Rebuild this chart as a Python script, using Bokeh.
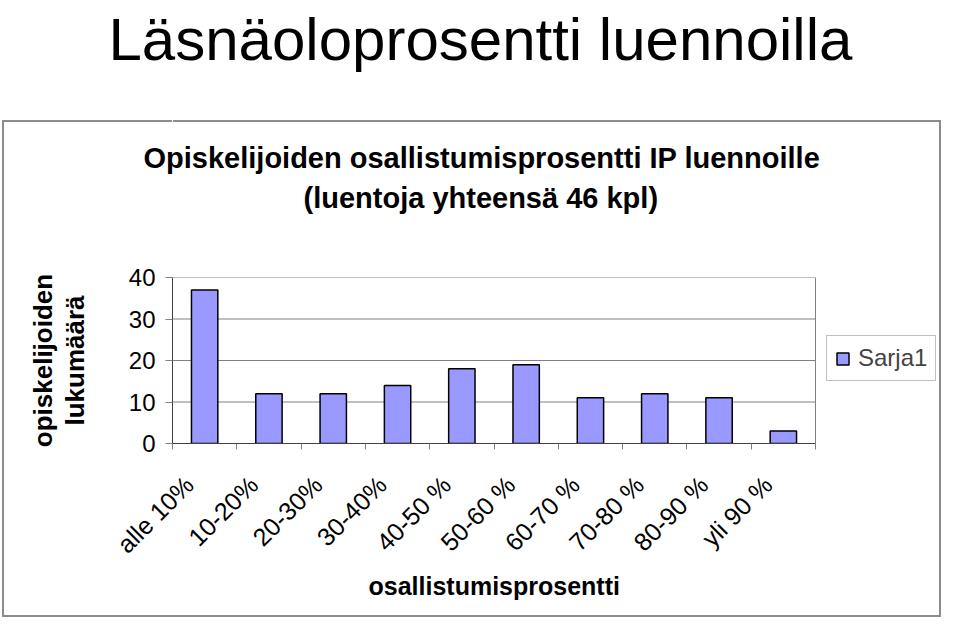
from math import pi
from bokeh.plotting import figure
from bokeh.models import (Range1d, LinearAxis, FixedTicker, CustomJSTickFormatter, Title,
                          Legend, LegendItem, ColumnDataSource, Grid)
from bokeh.embed import file_html
from bokeh.resources import INLINE

# ---- data ----
main_title = "Läsnäoloprosentti luennoilla"
chart_title_1 = "Opiskelijoiden osallistumisprosentti IP luennoille"
chart_title_2 = "(luentoja yhteensä 46 kpl)"
categories = ["alle 10%", "10-20%", "20-30%", "30-40%", "40-50 %",
              "50-60 %", "60-70 %", "70-80 %", "80-90 %", "yli 90 %"]
counts = [37, 12, 12, 14, 18, 19, 11, 12, 11, 3]
y_ticks = [0, 10, 20, 30, 40]
series_name = "Sarja1"
x_title = "osallistumisprosentti"
y_title = "opiskelijoiden\nlukumäärä"

# ---- layout constants (pixels) ----
W, H = 944, 619
FONT = "Liberation Sans"
BAR = "#9999FF"
GRAY = "#808080"
BOX = "#8c8c8c"
n = len(categories)
FL, FT, FB = 172, 277, 443      # frame left / top / bottom
PW = 643                        # width of the plotted category area
FW = W - FL                     # frame runs to the right edge (room for legend)
x_end = n * FW / PW

p = figure(width=W, height=H, output_backend="svg", toolbar_location=None,
           x_range=Range1d(0, x_end), y_range=Range1d(0, 40),
           x_axis_location=None, y_axis_location=None,
           frame_width=FW, frame_height=FB - FT,
           min_border_left=FL, min_border_right=0,
           min_border_top=FT, min_border_bottom=H - FB)
p.center = [c for c in p.center if not isinstance(c, Grid)]
p.outline_line_color = None
p.background_fill_color = None
p.border_fill_color = None

# outer chart box (drawn behind the transparent canvas)
g = f"linear-gradient({BOX},{BOX})"
p.styles = {"background": (f"{g} 2px 120px/939px 2px no-repeat, "
                           f"{g} 2px 615px/939px 2px no-repeat, "
                           f"{g} 2px 120px/2px 497px no-repeat, "
                           f"{g} 939px 120px/2px 497px no-repeat, white")}

# gridlines and plot-area border (top / right)
p.segment(x0=[0] * len(y_ticks), x1=[n] * len(y_ticks), y0=y_ticks, y1=y_ticks,
          line_color=GRAY, line_width=1)
p.segment(x0=[n], x1=[n], y0=[0], y1=[y_ticks[-1]], line_color=GRAY, line_width=1)

# bars (category i occupies [i, i+1])
src = ColumnDataSource(dict(x=[i + 0.5 for i in range(n)], top=counts, cat=categories))
r = p.vbar(x="x", top="top", width=0.41, source=src, fill_color=BAR,
           line_color="black", line_width=1.5)

# y axis
yax = LinearAxis(ticker=FixedTicker(ticks=y_ticks),
                 major_tick_out=7, major_tick_in=0, minor_tick_out=0, minor_tick_in=0,
                 axis_line_color="#404040", major_tick_line_color=GRAY,
                 major_label_standoff=10, major_label_text_font=FONT,
                 major_label_text_font_size="24px", major_label_text_color="black",
                 axis_label=y_title, axis_label_text_font=FONT,
                 axis_label_text_font_size="26px", axis_label_text_font_style="bold",
                 axis_label_text_line_height=1.05,
                 axis_label_text_color="black", axis_label_standoff=36)
p.add_layout(yax, "left")

# x tick marks at category boundaries (no labels)
tax = LinearAxis(ticker=FixedTicker(ticks=list(range(n + 1))), bounds=(0, n),
                 formatter=CustomJSTickFormatter(code="return ''"),
                 major_tick_out=6, major_tick_in=0, minor_tick_out=0, minor_tick_in=0,
                 axis_line_color="#404040", major_tick_line_color=GRAY,
                 major_label_standoff=0, major_label_text_font_size="1px")
p.add_layout(tax, "below")

# x category labels
cax = LinearAxis(ticker=FixedTicker(ticks=[i + 0.26 for i in range(n)]),
                 formatter=CustomJSTickFormatter(args=dict(labels=categories),
                                                 code="return labels[Math.floor(tick)]"),
                 axis_line_color=None, major_tick_line_color=None,
                 major_tick_out=0, major_tick_in=0, minor_tick_out=0, minor_tick_in=0,
                 major_label_orientation=pi / 4, major_label_standoff=31,
                 major_label_text_font=FONT, major_label_text_font_size="25px",
                 major_label_text_color="black")
p.add_layout(cax, "below")

# x axis title
p.add_layout(Title(text=x_title, align="left", offset=196, vertical_align="top",
                   standoff=0, text_font=FONT, text_font_size="25px",
                   text_font_style="bold", text_color="black"), "below")


def spacer(px):
    # an unlabeled, white-ticked axis used only to reserve vertical room
    return LinearAxis(ticker=FixedTicker(ticks=[0]), major_tick_out=px, major_tick_in=0,
                      minor_tick_out=0, minor_tick_in=0, axis_line_color=None,
                      major_tick_line_color="white",
                      formatter=CustomJSTickFormatter(code="return ''"),
                      major_label_standoff=0, major_label_text_font_size="1px")


# titles above the plot (first added sits closest to the plot)
p.add_layout(spacer(64), "above")
p.add_layout(Title(text=chart_title_2, align="left", offset=131, vertical_align="bottom",
                   standoff=0, text_font=FONT, text_font_size="29px",
                   text_font_style="bold", text_color="black"), "above")
p.add_layout(Title(text=chart_title_1, align="left", offset=-29, vertical_align="bottom",
                   standoff=11, text_font=FONT, text_font_size="29px",
                   text_font_style="bold", text_color="black"), "above")
p.add_layout(spacer(62), "above")
p.add_layout(Title(text=main_title, align="left", offset=-64, vertical_align="bottom",
                   standoff=0, text_font=FONT, text_font_size="60px",
                   text_font_style="normal", text_color="black"), "above")

# legend (position relative to the frame, in screen pixels)
legend = Legend(items=[LegendItem(label=series_name, renderers=[r])],
                location=(826 - FL, FB - 381), margin=0, padding=8, spacing=0,
                glyph_width=15, glyph_height=15, label_standoff=8,
                label_text_font=FONT, label_text_font_size="24px",
                border_line_color=GRAY, border_line_width=1,
                background_fill_color="white", background_fill_alpha=1)
p.add_layout(legend, "center")

open("out.html", "w").write(file_html(p, INLINE))
